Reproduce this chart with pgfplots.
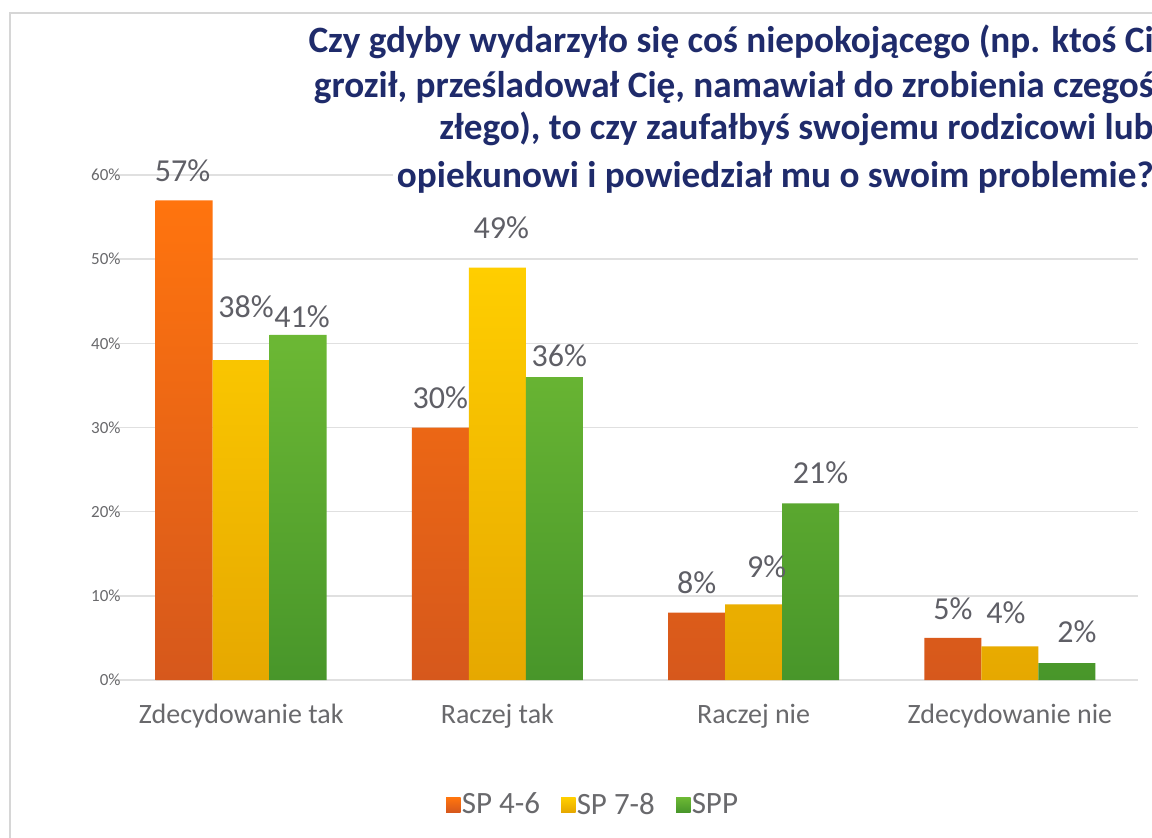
\documentclass[border=0pt]{standalone}
\usepackage{fontspec}
\setmainfont{Carlito}
\usepackage{pgfplots}
\pgfplotsset{compat=1.18}
\usepackage{pgfplotstable}

\definecolor{titleblue}{RGB}{31,43,107}
\definecolor{lblgray}{RGB}{95,95,102}
\definecolor{tickgray}{RGB}{105,105,108}
\definecolor{gridgray}{RGB}{224,224,224}
\definecolor{framegray}{RGB}{214,214,214}
\definecolor{orT}{RGB}{255,116,14}
\definecolor{orB}{RGB}{214,88,28}
\definecolor{yeT}{RGB}{255,206,0}
\definecolor{yeB}{RGB}{230,168,0}
\definecolor{grT}{RGB}{108,184,52}
\definecolor{grB}{RGB}{72,150,42}

\pgfplotstableread{
x y
0 57
1 30
2 8
3 5
}\tabA
\pgfplotstableread{
x y
0 38
1 49
2 9
3 4
}\tabB
\pgfplotstableread{
x y
0 41
1 36
2 21
3 2
}\tabC

% value label: #1 bar shift, #2 dx (px), #3 dy (px, bar top to label centre)
\pgfplotsset{
  lab/.style n args={3}{
    forget plot, draw=none, fill=none, bar shift=#1,
    nodes near coords={\pgfmathprintnumber{\pgfplotspointmeta}\%},
    nodes near coords style={font=\fontsize{16}{19}\selectfont, text=lblgray,
      inner sep=0pt, anchor=base, xshift=#2*0.5pt, yshift=#3*0.5pt-5.05pt},
  }
}

\begin{document}
\begin{tikzpicture}
\useasboundingbox (0,0) rectangle (576pt,418.5pt);
\clip (0,0) rectangle (576pt,418.5pt);
\fill[white] (0,0) rectangle (576pt,418.5pt);
\draw[framegray, line width=1pt] (4.75pt,-5pt) -- (4.75pt,412pt) -- (600pt,412pt);
\begin{axis}[
  at={(56.5pt,78.5pt)}, anchor=south west,
  scale only axis, width=512.5pt, height=252.5pt,
  xmin=-0.5, xmax=3.5, ymin=0, ymax=60,
  ybar=0pt, bar width=28.5pt,
  xtick={0,1,2,3},
  xticklabels={Zdecydowanie tak, Raczej tak, Raczej nie, Zdecydowanie nie},
  ytick={0,10,...,60},
  yticklabel={\pgfmathprintnumber{\tick}\%\kern-4pt},
  /pgf/number format/assume math mode=true,
  ymajorgrids, grid style={gridgray, line width=0.8pt},
  axis line style={draw=none},
  major tick length=0pt,
  clip=false,
  yticklabel style={font=\fontsize{8.5}{10}\selectfont, text=tickgray, anchor=east, inner sep=0pt},
  xticklabel style={font=\fontsize{14}{16}\selectfont, text=tickgray, anchor=base, inner sep=0pt, yshift=-21.5pt},
  legend style={at={(0.468,-0.2475)}, anchor=center, draw=none, fill=none,
    legend columns=3, font=\fontsize{15.5}{18}\selectfont, text=tickgray, inner sep=0pt,
    nodes={inner sep=0.6pt},
    /tikz/every even column/.append style={column sep=10pt}},
  legend image code/.code={\fill[#1] (0pt,-3.6pt) rectangle (7.2pt,3.6pt);},
]
\addplot[draw=none, top color=orT, bottom color=orB, bar shift=-28.5pt] table[x=x,y=y] {\tabA};
\addlegendentry{SP 4-6}
\addplot[draw=none, top color=yeT, bottom color=yeB, bar shift=0pt] table[x=x,y=y] {\tabB};
\addlegendentry{SP 7-8}
\addplot[draw=none, top color=grT, bottom color=grB, bar shift=28.5pt] table[x=x,y=y] {\tabC};
\addlegendentry{SPP}
% value labels (same values, placed as in the reference)
\addplot[lab={-28.5pt}{-1.5}{28.5}] coordinates {(0,57)};
\addplot[lab={-28.5pt}{0}{28.7}] coordinates {(1,30)};
\addplot[lab={-28.5pt}{0}{29.7}] coordinates {(2,8)};
\addplot[lab={-28.5pt}{0}{29}] coordinates {(3,5)};
\addplot[lab={0pt}{5}{53}] coordinates {(0,38)};
\addplot[lab={0pt}{4}{39}] coordinates {(1,49)};
\addplot[lab={0pt}{13}{37}] coordinates {(2,9)};
\addplot[lab={0pt}{-4}{33}] coordinates {(3,4)};
\addplot[lab={28.5pt}{4}{18}] coordinates {(0,41)};
\addplot[lab={28.5pt}{5}{21}] coordinates {(1,36)};
\addplot[lab={28.5pt}{10}{30}] coordinates {(2,21)};
\addplot[lab={28.5pt}{10}{31}] coordinates {(3,2)};
\end{axis}
% title box (hides the 60% gridline behind the title, as in the reference)
\fill[white] (196.5pt,320pt) rectangle (576pt,410pt);
\begin{scope}[every node/.style={font=\fontsize{18.6}{22.5}\selectfont\bfseries, text=titleblue, inner sep=0pt, anchor=base east}]
\node at (577pt,392pt) {Czy gdyby wydarzyło się coś niepokojącego (np. ktoś Ci};
\node at (577pt,369.5pt) {groził, prześladował Cię, namawiał do zrobienia czegoś};
\node at (577pt,348.5pt) {złego), to czy zaufałbyś swojemu rodzicowi lub};
\node at (577pt,324.5pt) {opiekunowi i powiedział mu o swoim problemie?};
\end{scope}
\end{tikzpicture}
\end{document}
